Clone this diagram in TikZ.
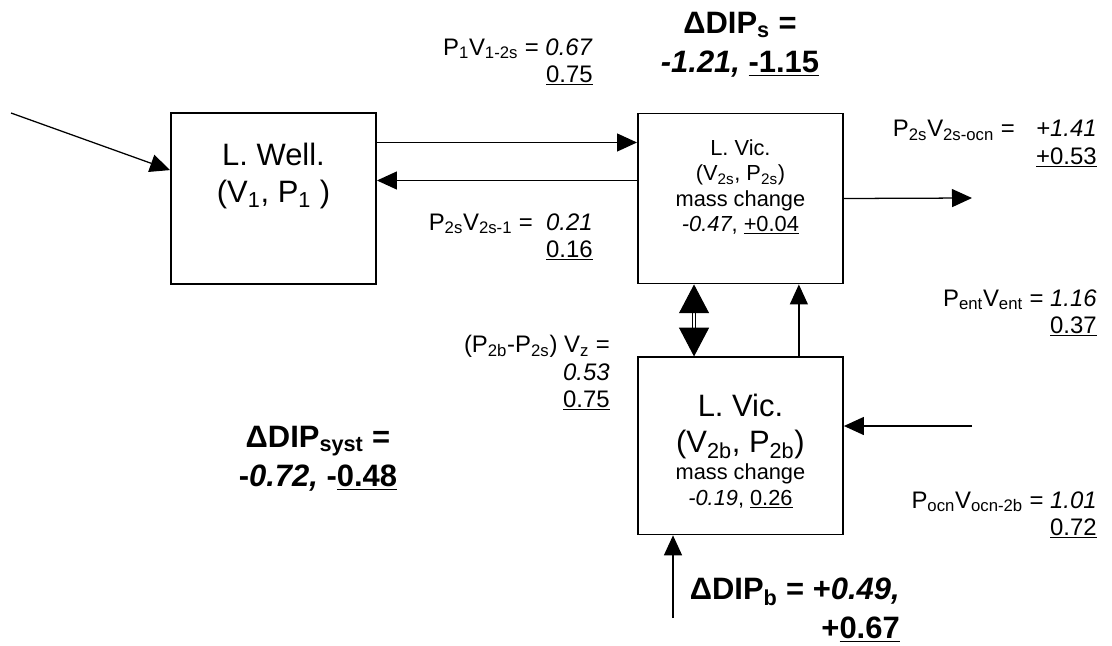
\documentclass[tikz,border=0pt]{standalone}
\usepackage{fontspec}
\setmainfont{Liberation Sans}
\usetikzlibrary{positioning,arrows.meta}
\newcommand{\bigsz}{\fontsize{22}{26}\selectfont}
\newcommand{\dipsz}{\fontsize{22}{28}\selectfont}
\newcommand{\labsz}{\fontsize{17}{19.5}\selectfont}
\newcommand{\smsz}{\fontsize{15.5}{18}\selectfont}

\begin{document}
\begin{tikzpicture}[x=0.025cm,y=-0.025cm,
        box/.style={draw,line width=1.3pt,minimum width=5.125cm,inner sep=0pt},
        arr/.style={-{Triangle[length=0.5cm,width=0.45cm]},line width=0.9pt},
        dbl/.style={{Triangle[length=0.72cm,width=0.75cm]}-{Triangle[length=0.72cm,width=0.75cm]},
                    double,double distance=1.6pt,line width=0.7pt},
        lab/.style={align=right,anchor=east,font=\labsz,inner sep=0pt},
        dip/.style={align=center,font=\dipsz\bfseries,inner sep=0pt}]
    \useasboundingbox (0,0) rectangle (1112,645);
    \node[box,minimum height=4.275cm] (lwell) at (273.5,198.5) {};
    \node[box,minimum height=4.25cm,right=6.5cm of lwell] (vs) {};
    \node[box,minimum height=4.425cm,below=1.8cm of vs] (vb) {};
    \node[font=\bigsz,align=center,inner sep=0pt,below=0.78cm of lwell.north] (wellt) {L. Well.\\(V\textsubscript{1}, P\textsubscript{1} )};
    \node[font=\smsz,align=center,inner sep=0pt,below=0.67cm of vs.north] (vst) {L. Vic.\\(V\textsubscript{2s}, P\textsubscript{2s})\\mass change\\\textit{-0.47}, \underline{+0.04}};
    \node[font=\bigsz,align=center,inner sep=0pt,below=0.93cm of vb.north] (vbt) {L. Vic.\\(V\textsubscript{2b}, P\textsubscript{2b})};
    \node[font=\smsz,align=center,inner sep=0pt,below=0.1cm of vbt] (vbm) {mass change\\\textit{-0.19}, \underline{0.26}};
    \node[dip] (dips) at (740,45) {ΔDIP\textsubscript{s} =\\\textit{-1.21,} \underline{-1.15}};
    \node[dip] (dipsyst) at (318,459) {ΔDIP\textsubscript{syst} =\\-\textit{0.72,} -\underline{0.48}};
    \node[dip,align=right,anchor=east] (dipb) at (900,610) {ΔDIP\textsubscript{b} = +\textit{0.49,}\\+\underline{0.67}};
    \node[lab] (p1v) at (593,62) {P\textsubscript{1}V\textsubscript{1-2s} = \textit{0.67}\\\underline{0.75}};
    \node[lab] (p2sv) at (593,237) {P\textsubscript{2s}V\textsubscript{2s-1} =\ \ \textit{0.21}\\\underline{0.16}};
    \node[lab] (pocnout) at (1097,144) {P\textsubscript{2s}V\textsubscript{2s-ocn} =\hspace{0.9em}\textit{+1.41}\\\underline{+0.53}};
    \node[lab] (pent) at (1097,313) {P\textsubscript{ent}V\textsubscript{ent} = \textit{1.16}\\\underline{0.37}};
    \node[lab] (pz) at (610,373) {(P\textsubscript{2b}-P\textsubscript{2s}) V\textsubscript{z} =\\\textit{0.53}\\\underline{0.75}};
    \node[lab] (pocnin) at (1097,515) {P\textsubscript{ocn}V\textsubscript{ocn-2b} = \textit{1.01}\\\underline{0.72}};
    \coordinate (inl) at (11,113);
    \coordinate (ocnout) at (972,198);
    \coordinate (ocnin) at (972,426);
    \coordinate (botin) at (673,618);
    \draw[arr] (inl) -- ([yshift=0.71cm]lwell.west);
    \draw[arr] ([yshift=1.4cm]lwell.east) -- ([yshift=1.4cm]vs.west);
    \draw[arr] ([yshift=0.45cm]vs.west) -- ([yshift=0.45cm]lwell.east);
    \draw[arr] (vs.east) -- (ocnout);
    \draw[dbl] ([xshift=-1.16cm]vs.south) -- ([xshift=-1.16cm]vb.north);
    \draw[arr] ([xshift=1.46cm]vb.north) -- ([xshift=1.46cm]vs.south);
    \draw[arr] (ocnin) -- (vb.east |- ocnin);
    \draw[arr] (botin) -- (vb.south -| botin);
\end{tikzpicture}
\end{document}
